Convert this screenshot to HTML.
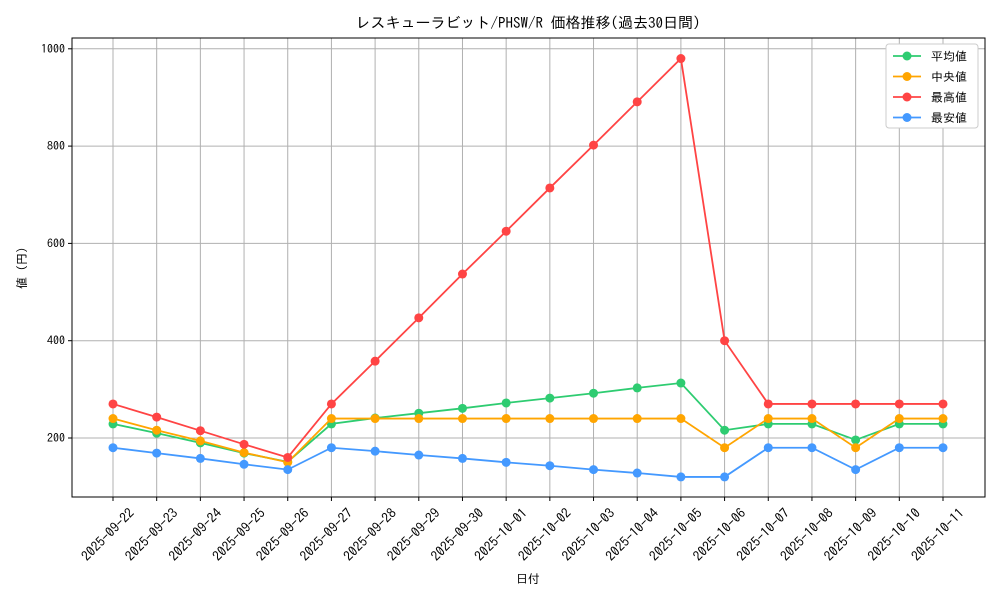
<!DOCTYPE html>
<html><head><meta charset="utf-8"><style>
body{margin:0;background:#fff;font-family:"IPAGothic","Noto Sans CJK JP",sans-serif;}
svg text{font-family:"IPAGothic","Noto Sans CJK JP",sans-serif;fill:#000;}
</style></head><body>
<svg id="chart" width="1000" height="600">
<rect width="1000" height="600" fill="#fff"/>
<text x="528" y="28" font-size="15" text-anchor="middle">レスキューラビット/PHSW/R 価格推移(過去30日間)</text>
<g id="grid"></g>
<rect x="72" y="38" width="913" height="459" fill="none" stroke="#000" stroke-width="1"/>
<g id="axes"></g>
<g id="series"></g>
<text x="528" y="583" font-size="12" text-anchor="middle">日付</text>
<text transform="translate(26,268) rotate(-90)" font-size="12" text-anchor="middle">値 (円)</text>
<g id="legend"></g>
</svg>
<script>
const dates=["2025-09-22","2025-09-23","2025-09-24","2025-09-25","2025-09-26","2025-09-27","2025-09-28","2025-09-29","2025-09-30","2025-10-01","2025-10-02","2025-10-03","2025-10-04","2025-10-05","2025-10-06","2025-10-07","2025-10-08","2025-10-09","2025-10-10","2025-10-11"];
const avgVals=[229,210,190,169,151,229,241,251,261,272,282,292,303,313,216,229,229,196,229,229];
const medVals=[240,216,194,170,150,240,240,240,240,240,240,240,240,240,180,240,240,180,240,240];
const maxVals=[270,243,215,187,160,270,358,447,537,625,714,802,891,980,400,270,270,270,270,270];
const minVals=[180,169,158,146,135,180,173,165,158,150,143,135,128,120,120,180,180,135,180,180];
const yTicks=[200,400,600,800,1000];
const seriesNames=["平均値","中央値","最高値","最安値"];
const colors=["#2ecc71","#ffa500","#ff4444","#4499ff"];
const ns="http://www.w3.org/2000/svg";
const X=i=>113+i*(943-113)/19;
const Y=v=>438-(v-200)*0.4865;
function mk(t,a,p){const e=document.createElementNS(ns,t);for(const k in a)e.setAttribute(k,a[k]);p.appendChild(e);return e;}
const grid=document.getElementById('grid'),axes=document.getElementById('axes'),ser=document.getElementById('series'),leg=document.getElementById('legend');
dates.forEach((d,i)=>{
 const l=mk('line',{x1:X(i),x2:X(i),y1:38,y2:497,stroke:'#b0b0b0','stroke-width':1},grid);
 
 mk('line',{x1:X(i),x2:X(i),y1:497,y2:501,stroke:'#000'},axes);
 const t=mk('text',{x:0,y:0,'font-size':13.5,'text-anchor':'end',transform:`translate(${X(i)+22},${514}) rotate(-45)`},axes);
 t.textContent=d;
 
});
yTicks.forEach(v=>{
 const l=mk('line',{x1:72,x2:985,y1:Y(v),y2:Y(v),stroke:'#b0b0b0','stroke-width':1},grid);
 
 mk('line',{x1:68,x2:72,y1:Y(v),y2:Y(v),stroke:'#000'},axes);
 const t=mk('text',{x:65,y:Y(v)+4,'font-size':12,'text-anchor':'end'},axes);
 t.textContent=v;
 
});
[avgVals,medVals,maxVals,minVals].forEach((vals,s)=>{
 const g=mk('g',{},ser);
 
 mk('polyline',{points:vals.map((v,i)=>X(i)+','+Y(v)).join(' '),fill:'none',stroke:colors[s],'stroke-width':1.8},g);
 vals.forEach((v,i)=>{const c=mk('circle',{cx:X(i),cy:Y(v),r:4.5,fill:colors[s]},g);
  });
});
const lb=mk('rect',{x:886,y:44,width:92,height:84,fill:'#fff',stroke:'#ccc',rx:3},leg);

seriesNames.forEach((n,s)=>{
 const y=56+s*20.5;
 const g=mk('g',{},leg);
 
 mk('line',{x1:893,x2:921,y1:y,y2:y,stroke:colors[s],'stroke-width':1.8},g);
 mk('circle',{cx:907,cy:y,r:4.5,fill:colors[s]},g);
 const t=mk('text',{x:931,y:y+4.5,'font-size':12},g);t.textContent=n;
});
</script>
</body></html>
